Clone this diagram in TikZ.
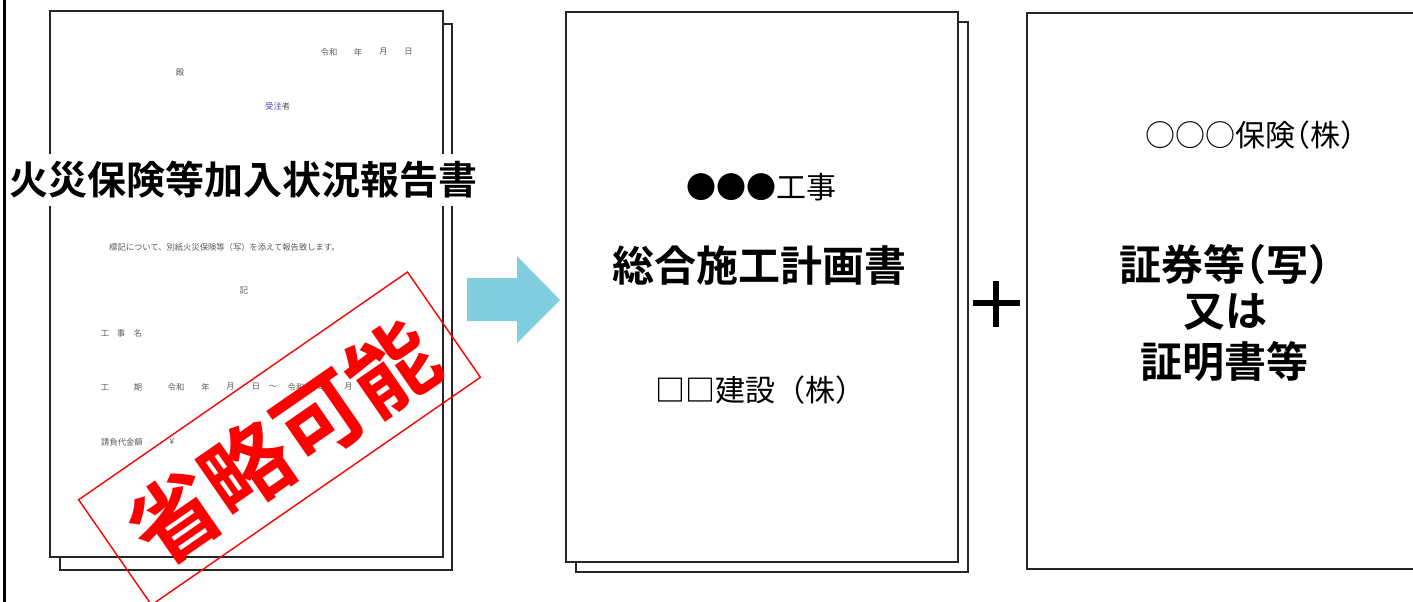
\documentclass[tikz,border=0pt]{standalone}
\usepackage{fontspec}
\setmainfont{Noto Sans CJK JP}[BoldFont={Noto Sans CJK JP Bold}]
\newfontfamily\jphalt{Noto Sans CJK JP}[RawFeature=+halt, BoldFont={Noto Sans CJK JP Bold}]
\definecolor{arrowblue}{RGB}{128,206,222}
\definecolor{smallgray}{RGB}{90,90,90}
\definecolor{orderblue}{RGB}{70,70,190}
\begin{document}
\begin{tikzpicture}[x=1pt,y=-1pt,
  page/.style={draw=black!85, line width=1.1pt, fill=white},
  small/.style={font=\fontsize{8.3}{10}\selectfont, text=smallgray, inner sep=0pt},
  bigbold/.style={font=\fontsize{#1}{#1}\selectfont\bfseries, inner sep=0pt},
  plain/.style={font=\fontsize{#1}{#1}\selectfont, inner sep=0pt}]
\useasboundingbox (0,0) rectangle (1413,602);
\fill[white] (0,0) rectangle (1413,602);
\draw[line width=3.2pt] (4.5,0) -- (4.5,602);

% ---- document 1 (fire insurance report) ----
\draw[page] (60,24) rectangle (452,570);
\draw[page] (50,11) rectangle (443,557);

\node[small] (d1a) at (329,52) {令和};
\node[small] (d1b) at (358,52) {年};
\node[small] (d1c) at (383.5,52) {月};
\node[small] (d1d) at (408.5,52) {日};
\node[small] (d1e) at (180,73) {殿};
\node[small, anchor=west] (d1f) at (265,106) {\textcolor{orderblue}{受注}者};
\node[small, anchor=west] (d1g) at (109,247) {標記について、別紙火災保険等（写）を添えて報告致します。};
\node[small] (d1h) at (244,290) {記};
\node[small] (k1) at (105,333) {工};
\node[small] (k2) at (121,333) {事};
\node[small] (k3) at (138,333) {名};
\node[small] (p1) at (105,387) {工};
\node[small] (p2) at (138,387) {期};
\node[small] (p3) at (176,387) {令和};
\node[small] (p4) at (205.5,387) {年};
\node[small] (p5) at (230.5,387) {月};
\node[small] (p6) at (256,387) {日};
\node[small] (p7) at (273,387) {～};
\node[small] (p8) at (296,387) {令和};
\node[small] (p9) at (322,387) {年};
\node[small] (p10) at (348.5,387) {月};
\node[small, anchor=west] (m1) at (101,442) {請負代金額};
\node[small] (m2) at (172,442) {¥};

\node[bigbold=39, fill=white, minimum height=52pt, inner xsep=1pt] (title) at (243.5,180) {火災保険等加入状況報告書};

\node[draw=red, line width=1.4pt, rotate=34.7, minimum width=400pt, minimum height=128pt, inner sep=0pt] (stampbox) at (279.5,438.5) {};
\node[bigbold=88, text=red, rotate=34.7] (stamptext) at (283,443) {省略可能};

% ---- arrow ----
\fill[arrowblue] (467,278) -- (517,278) -- (517,256) -- (560,300) -- (517,343) -- (517,321) -- (467,321) -- cycle;

% ---- document 2 (general construction plan) ----
\draw[page] (576,22) rectangle (968,572);
\draw[page] (566,12) rectangle (958,562);
\node[plain=30] (w1) at (761,187) {●●●工事};
\node[bigbold=42] (w2) at (759,266) {総合施工計画書};
\node[plain=30] (w3) at (760,390) {{\bfseries □□}建設（株）};

% ---- plus ----
\draw[line width=6pt] (973,303) -- (1020,303);
\draw[line width=6pt] (996,281) -- (996,327);

% ---- document 3 (certificate) ----
\draw[page] (1027,13) rectangle (1430,569);
\node[plain=30, font=\jphalt\fontsize{30}{30}\selectfont] (c1) at (1250,135) {○○○保険（株）};
\node[bigbold=42, font=\jphalt\fontsize{42}{42}\selectfont\bfseries] (c2) at (1224,265) {証券等（写）};
\node[bigbold=42] (c3) at (1225,312) {又は};
\node[bigbold=42] (c4) at (1224,362) {証明書等};
\end{tikzpicture}
\end{document}
